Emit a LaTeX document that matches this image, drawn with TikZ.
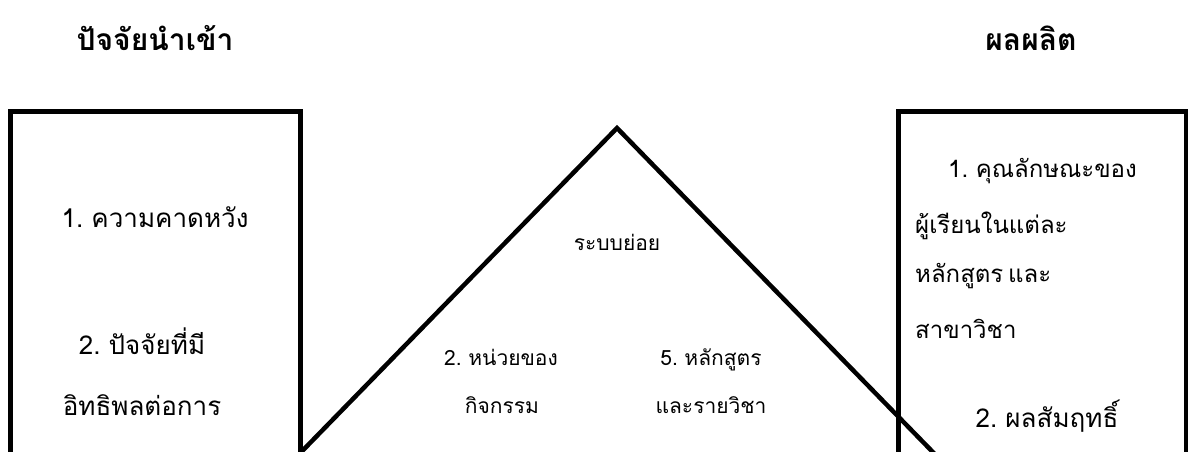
\documentclass[tikz,border=0pt]{standalone}
\usepackage{fontspec}
\newfontfamily\thaifont[Script=Thai,WordSpace=0.6]{Loma}
\usetikzlibrary{positioning}

\begin{document}
\begin{tikzpicture}[
  x=1pt,y=-1pt,
  frame/.style={draw,line width=5pt},
  txt/.style={inner sep=0pt,anchor=base,font=\thaifont\fontsize{26}{30}\selectfont},
  txtl/.style={txt,anchor=base west,font=\thaifont\fontsize{24}{30}\selectfont},
  mid/.style={txt,font=\thaifont\fontsize{21}{26}\selectfont},
  head/.style={txt,font=\thaifont\bfseries\fontsize{30}{34}\selectfont}
]
\clip (0,0) rectangle (1188,451);
\draw[frame] (10,111.5) rectangle (300,620);
\draw[frame] (898,111.5) rectangle (1186.5,620);
\draw[line width=4.5pt,line join=miter] (157,600) -- (617,128) -- (1077,600);

\node[head] (inp) at (155,50) {ปัจจัยนำเข้า};
\node[head] (outp) at (1031,50) {ผลผลิต};

\node[txt] (in1) at (155,227) {1. ความคาดหวัง};
\node[txt] (in2) at (142,354) {2. ปัจจัยที่มี};
\node[txt] (in3) at (142,415) {อิทธิพลต่อการ};
\node[txt] (in4) at (148,477) {ตัดสินใจ};

\node[mid] (sub) at (617,250) {ระบบย่อย};
\node[mid] (sub2a) at (501,365) {2. หน่วยของ};
\node[mid] (sub2b) at (502,413) {กิจกรรม};
\node[mid] (sub5a) at (711,365) {5. หลักสูตร};
\node[mid] (sub5b) at (711,413) {และรายวิชา};

\node[txtl] (out1a) at (948,177) {1. คุณลักษณะของ};
\node[txtl] (out1b) at (915,233) {ผู้เรียนในแต่ละ};
\node[txtl] (out1c) at (915,282) {หลักสูตร และ};
\node[txtl] (out1d) at (915,338) {สาขาวิชา};
\node[txt] (out2) at (1047,427) {2. ผลสัมฤทธิ์};
\end{tikzpicture}
\end{document}
